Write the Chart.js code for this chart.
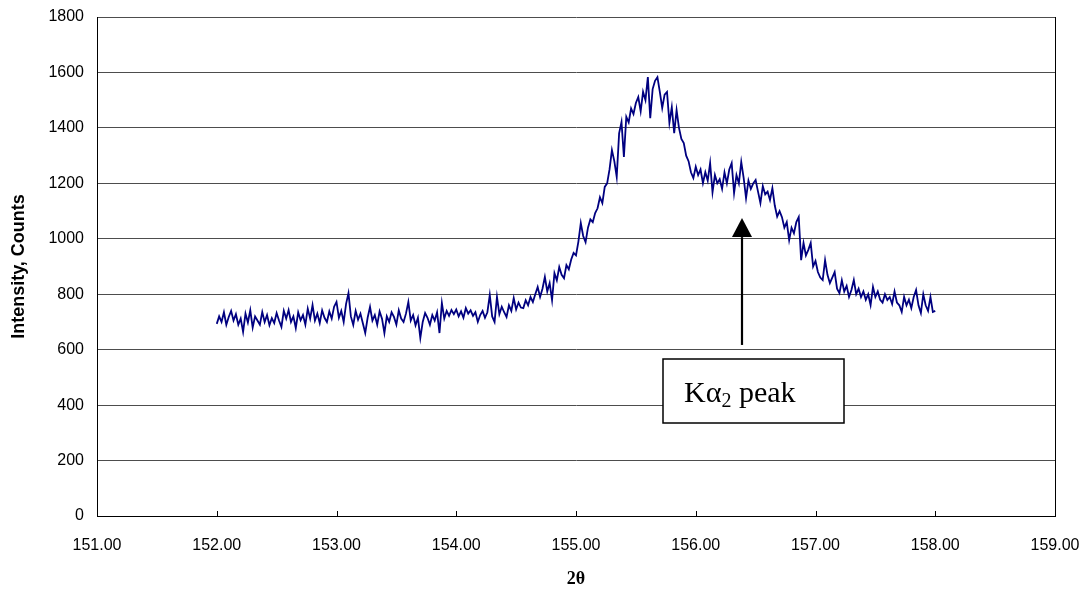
<!DOCTYPE html>
<html>
<head>
<meta charset="utf-8">
<script src="https://cdn.jsdelivr.net/npm/chart.js@4.4.0/dist/chart.umd.min.js"></script>
<style>
  body { margin: 0; background: #fff; }
  #wrap { width: 1088px; height: 591px; }
</style>
</head>
<body>
<div id="wrap"><canvas id="xrd-chart" width="1088" height="591"></canvas></div>
<script>
// scan range: 152.00 .. 158.00, one reading every 0.02 deg
const thetaStart = 152.0;
const thetaStep = 0.02;

// intensity readings (counts), 10 per 0.2 deg
const counts = [
  693, 720, 700, 735, 690, 718, 740, 705, 728, 690,
  712, 664, 730, 698, 742, 680, 720, 705, 690, 736,
  700, 725, 688, 714, 696, 732, 705, 682, 740, 712,
  743, 700, 720, 678, 735, 706, 725, 690, 748, 712,
  761, 705, 730, 696, 742, 715, 700, 738, 712, 755,
  772, 715, 740, 700, 765, 804, 720, 689, 740, 708,
  730, 695, 660, 715, 754, 705, 725, 690, 738, 712,
  660, 720, 700, 735, 718, 690, 742, 712, 700, 730,
  772, 705, 725, 688, 715, 642, 700, 732, 715, 690,
  725, 705, 735, 660, 768, 712, 740, 722, 743, 728,
  745, 720, 738, 715, 750, 730, 742, 722, 735, 700,
  725, 740, 715, 735, 797, 720, 700, 790, 728, 755,
  735, 718, 760, 740, 786, 745, 770, 752, 750, 778,
  760, 790, 772, 800, 826, 790, 820, 862, 810, 840,
  779, 876, 850, 898, 870, 858, 905, 890, 925, 949,
  940, 990, 1057, 1010, 988, 1040, 1070, 1060, 1093, 1110,
  1150, 1129, 1187, 1200, 1250, 1320, 1280, 1223, 1380, 1421,
  1295, 1440, 1420, 1470, 1450, 1490, 1511, 1460, 1530, 1500,
  1583, 1435, 1540, 1570, 1583, 1530, 1472, 1520, 1530, 1418,
  1475, 1381, 1464, 1400, 1360, 1345, 1300, 1280, 1240, 1219,
  1260, 1230, 1250, 1201, 1240, 1210, 1273, 1168, 1230, 1200,
  1215, 1180, 1240, 1200, 1250, 1273, 1165, 1230, 1200, 1277,
  1220, 1147, 1210, 1180, 1200, 1212, 1170, 1129, 1190, 1160,
  1170, 1140, 1183, 1120, 1080, 1100, 1078, 1040, 1060, 995,
  1040, 1020, 1060, 1078, 923, 985, 940, 960, 985, 900,
  920, 880, 860, 851, 923, 870, 840, 860, 880, 820,
  804, 850, 810, 830, 790, 815, 851, 800, 820, 790,
  810, 780, 800, 761, 826, 790, 810, 780, 770, 800,
  779, 790, 765, 810, 770, 760, 736, 790, 760, 780,
  750, 790, 815, 760, 732, 800, 760, 740, 790, 736,
  740
];

// axis ranges / tick labels
const xTicks = [151, 152, 153, 154, 155, 156, 157, 158, 159];
const yTicks = [0, 200, 400, 600, 800, 1000, 1200, 1400, 1600, 1800];

// the arrow + label box, in data units
const note = {
  text: 'K\u03B1', sub: '2', tail: ' peak',
  arrowX: 156.39, tipY: 1075, headBaseY: 1006, footY: 617,
  boxX0: 155.727, boxX1: 157.238, boxTop: 566, boxBottom: 335,
  textX: 155.902, textY: 411
};

const points = counts.map((c, i) => ({ x: +(thetaStart + i * thetaStep).toFixed(2), y: c }));

const framePlugin = {
  id: 'frame',
  beforeDatasetsDraw(chart) {
    const { ctx, chartArea: a, scales: { x } } = chart;
    ctx.save();
    ctx.strokeStyle = '#000';
    ctx.lineWidth = 1;
    ctx.beginPath();
    ctx.moveTo(a.right + 0.5, a.top);
    ctx.lineTo(a.right + 0.5, a.bottom);
    // little inward ticks on the 2θ axis
    for (const t of xTicks) {
      const px = Math.round(x.getPixelForValue(t)) + 0.5;
      ctx.moveTo(px, a.bottom);
      ctx.lineTo(px, a.bottom - 5);
    }
    ctx.stroke();
    ctx.restore();
  },
  afterDatasetsDraw(chart) {
    const { ctx, scales: { x, y } } = chart;
    ctx.save();
    const ax = Math.round(x.getPixelForValue(note.arrowX));
    const tip = y.getPixelForValue(note.tipY);
    const base = y.getPixelForValue(note.headBaseY);
    const foot = y.getPixelForValue(note.footY);
    ctx.strokeStyle = '#000';
    ctx.fillStyle = '#000';
    ctx.lineWidth = 2.2;
    ctx.beginPath();
    ctx.moveTo(ax, foot);
    ctx.lineTo(ax, base);
    ctx.stroke();
    ctx.beginPath();
    ctx.moveTo(ax, tip);
    ctx.lineTo(ax - 10, base);
    ctx.lineTo(ax + 10, base);
    ctx.closePath();
    ctx.fill();

    const bx0 = Math.round(x.getPixelForValue(note.boxX0));
    const bx1 = Math.round(x.getPixelForValue(note.boxX1));
    const by0 = Math.round(y.getPixelForValue(note.boxTop));
    const by1 = Math.round(y.getPixelForValue(note.boxBottom));
    ctx.fillStyle = '#fff';
    ctx.fillRect(bx0, by0, bx1 - bx0, by1 - by0);
    ctx.lineWidth = 1.5;
    ctx.strokeRect(bx0, by0, bx1 - bx0, by1 - by0);

    ctx.fillStyle = '#000';
    ctx.textBaseline = 'alphabetic';
    ctx.textAlign = 'left';
    let tx = x.getPixelForValue(note.textX);
    const ty = y.getPixelForValue(note.textY);
    ctx.font = '30px "Liberation Serif", "Times New Roman", serif';
    ctx.fillText(note.text, tx, ty);
    tx += ctx.measureText(note.text).width;
    ctx.font = '20px "Liberation Serif", "Times New Roman", serif';
    ctx.fillText(note.sub, tx, ty + 5);
    tx += ctx.measureText(note.sub).width;
    ctx.font = '30px "Liberation Serif", "Times New Roman", serif';
    ctx.fillText(note.tail, tx, ty);
    ctx.restore();
  }
};

function createChart() {
  const canvas = document.getElementById('xrd-chart');
  new Chart(canvas, {
    type: 'line',
    data: {
      datasets: [{
        label: 'Intensity',
        data: points,
        borderColor: '#000080',
        borderWidth: 1.8,
        pointRadius: 0,
        tension: 0,
        fill: false
      }]
    },
    options: {
      responsive: false,
      animation: false,
      devicePixelRatio: 1,
      layout: { padding: { top: 17, right: 33, left: 0, bottom: 0 } },
      plugins: { legend: { display: false }, tooltip: { enabled: false } },
      scales: {
        x: {
          type: 'linear',
          min: 151,
          max: 159,
          afterBuildTicks: (s) => { s.ticks = xTicks.map(v => ({ value: v })); },
          afterFit: (s) => { s.height = 75; s.paddingLeft = 0; s.paddingRight = 0; },
          grid: { drawOnChartArea: false, drawTicks: false },
          border: { color: '#000', width: 1 },
          ticks: {
            color: '#000',
            padding: 20,
            maxRotation: 0,
            font: { family: '"Liberation Sans", Arial, sans-serif', size: 16 },
            callback: (v) => Number(v).toFixed(2)
          },
          title: {
            display: true,
            text: '2\u03B8',
            color: '#000',
            padding: 1,
            font: { family: '"Liberation Serif", "Times New Roman", serif', size: 18, weight: 'bold' }
          }
        },
        y: {
          min: 0,
          max: 1800,
          afterBuildTicks: (s) => { s.ticks = yTicks.map(v => ({ value: v })); },
          afterFit: (s) => { s.width = 97; s.paddingTop = 0; s.paddingBottom = 0; },
          grid: { color: '#4d4d4d', lineWidth: 1, drawTicks: false },
          border: { color: '#000', width: 1 },
          ticks: {
            color: '#000',
            padding: 13,
            font: { family: '"Liberation Sans", Arial, sans-serif', size: 16 },
            callback: (v) => String(v)
          },
          title: {
            display: true,
            text: 'Intensity, Counts',
            color: '#000',
            padding: 8,
            font: { family: '"Liberation Sans", Arial, sans-serif', size: 18, weight: 'bold' }
          }
        }
      }
    },
    plugins: [framePlugin]
  });
}

document.addEventListener('DOMContentLoaded', () => createChart());
</script>
</body>
</html>
